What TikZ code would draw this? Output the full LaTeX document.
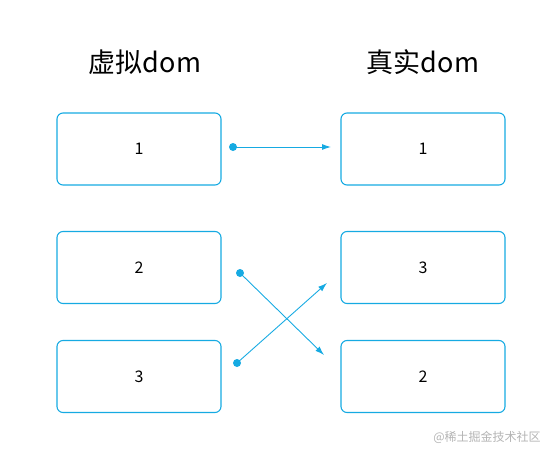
\documentclass[tikz,border=0pt]{standalone}
\usepackage{fontspec}
\setmainfont{Noto Sans CJK SC}
\usetikzlibrary{arrows.meta}
\definecolor{lineblue}{RGB}{22,170,226}
\definecolor{wmgray}{RGB}{180,180,180}
\tikzset{
  boxnode/.style={draw=lineblue, line width=1.1pt, rounded corners=6pt, minimum width=164pt, minimum height=72pt, inner sep=0pt, font=\fontsize{16}{18}\selectfont},
  titlenode/.style={font=\fontsize{27}{30}\selectfont, inner sep=0pt},
  dotnode/.style={circle, fill=lineblue, inner sep=0pt, minimum size=8pt},
  conn/.style={draw=lineblue, line width=0.9pt, -{Latex[length=9pt,width=6pt]}},
}
\begin{document}
\begin{tikzpicture}[x=1pt,y=-1pt]
\useasboundingbox (0,0) rectangle (552,455);
\node[titlenode] (t1) at (145,62) {虚拟dom};
\node[titlenode] (t2) at (423,62) {真实dom};
\node[boxnode] (v1) at (139,149) {1};
\node[boxnode] (v2) at (139,267.5) {2};
\node[boxnode] (v3) at (139,376.5) {3};
\node[boxnode] (r1) at (423,149) {1};
\node[boxnode] (r2) at (423,267.5) {3};
\node[boxnode] (r3) at (423,376.5) {2};
\node[dotnode] (d1) at (233,147) {};
\node[dotnode] (d2) at (240,273) {};
\node[dotnode] (d3) at (237,363) {};
\coordinate (e1) at (331,147);
\coordinate (e2) at (324,355);
\coordinate (e3) at (327,283);
\draw[conn] (d1.center) -- (e1);
\draw[conn] (d2.center) -- (e2);
\draw[conn] (d3.center) -- (e3);
\node[text=wmgray, font=\fontsize{12}{14}\selectfont, inner sep=0pt] (wm) at (487,437) {@稀土掘金技术社区};
\end{tikzpicture}
\end{document}
